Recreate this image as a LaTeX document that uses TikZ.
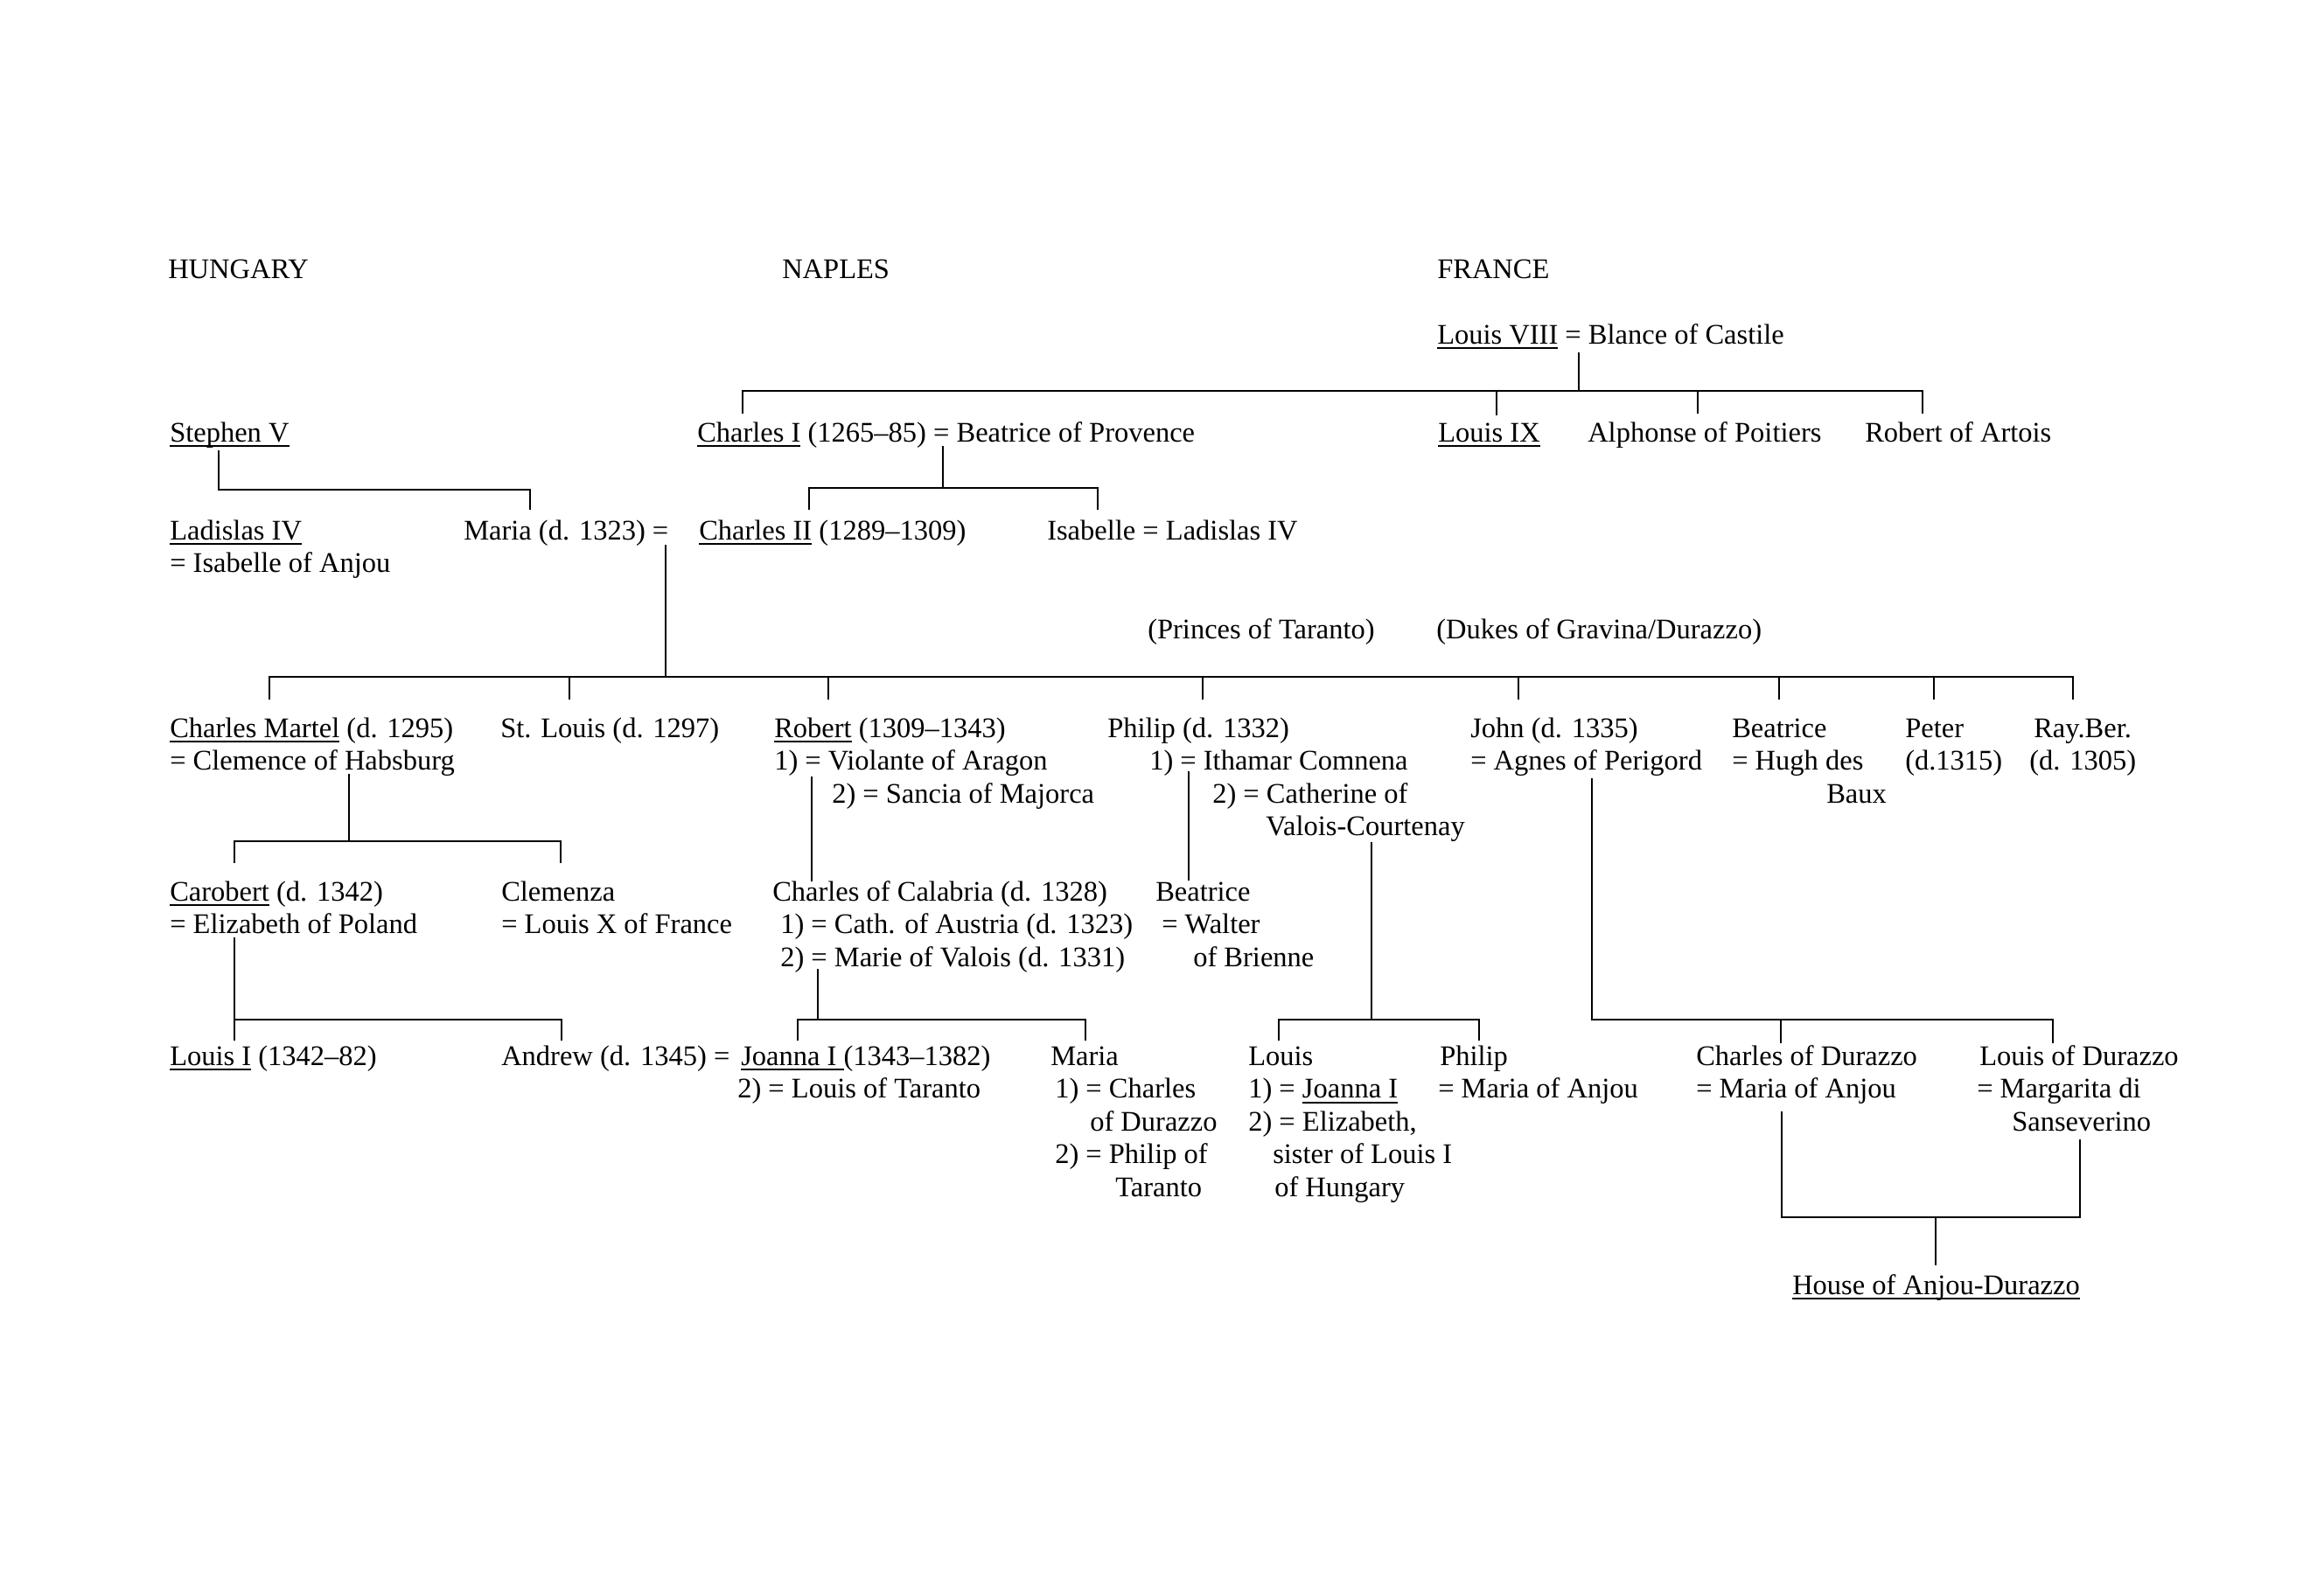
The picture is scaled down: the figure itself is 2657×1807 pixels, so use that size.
\documentclass[tikz,border=0pt]{standalone}
\usepackage{fontspec}
\setmainfont{Liberation Serif}
\newlength{\pxu}
\setlength{\pxu}{0.4pt}
\newcommand{\ind}[1]{\hspace*{#1\pxu}}
\newcommand{\und}[1]{\setbox0=\hbox{#1}\rlap{\rule[-2.4pt]{\wd0}{0.7pt}}\box0\relax}
\newcommand{\kinlines}[1]{\begin{tabular}[t]{@{}l@{}}#1\end{tabular}}

\begin{document}
\begin{tikzpicture}[x=0.4pt,y=-0.4pt,line width=1pt,
  every node/.style={anchor=base west,inner sep=0pt,font=\fontsize{13}{15}\selectfont}]
  \useasboundingbox (0,0) rectangle (2657,1807);
  \node (hungary) at (191,318) {HUNGARY};
  \node (naples) at (893,318) {NAPLES};
  \node (france) at (1642,318) {FRANCE};
  \node (louis8) at (1642,393) {\und{Louis VIII} = Blance of Castile};
  \node (stephen) at (193,505) {\und{Stephen V}};
  \node (charles1) at (796,505) {\und{Charles I} (1265--85) = Beatrice of Provence};
  \node (louis9) at (1643,505) {\und{Louis IX}};
  \node (alphonse) at (1814,505) {Alphonse of Poitiers};
  \node (robertart) at (2131,505) {Robert of Artois};
  \node (ladislas) at (193,617) {\kinlines{\und{Ladislas IV}\\= Isabelle of Anjou}};
  \node (maria) at (529,617) {Maria (d. 1323) =};
  \node (charles2) at (798,617) {\und{Charles II} (1289--1309)};
  \node (isabelle) at (1196,617) {Isabelle = Ladislas IV};
  \node (taranto) at (1311,730) {(Princes of Taranto)};
  \node (durazzo) at (1641,730) {(Dukes of Gravina/Durazzo)};
  \node (martel) at (193,843) {\kinlines{\und{Charles Martel} (d. 1295)\\= Clemence of Habsburg}};
  \node (stlouis) at (571,843) {St. Louis (d. 1297)};
  \node (robert) at (884,843) {\kinlines{\und{Robert} (1309--1343)\\1) = Violante of Aragon\\\ind{66}2) = Sancia of Majorca}};
  \node (philip) at (1265,843) {\kinlines{Philip (d. 1332)\\\ind{48}1) = Ithamar Comnena\\\ind{120}2) = Catherine of\\\ind{181}Valois-Courtenay}};
  \node (john) at (1680,843) {\kinlines{John (d. 1335)\\= Agnes of Perigord}};
  \node (beatrice) at (1979,843) {\kinlines{Beatrice\\= Hugh des\\\ind{108}Baux}};
  \node (peter) at (2177,843) {\kinlines{Peter\\(d.1315)}};
  \node (rayber) at (2319,843) {\kinlines{\ind{5}Ray.Ber.\\(d. 1305)}};
  \node (carobert) at (193,1030) {\kinlines{\und{Carobert} (d. 1342)\\= Elizabeth of Poland}};
  \node (clemenza) at (572,1030) {\kinlines{Clemenza\\= Louis X of France}};
  \node (calabria) at (882,1030) {\kinlines{Charles of Calabria (d. 1328)\\\ind{9}1) = Cath. of Austria (d. 1323)\\\ind{9}2) = Marie of Valois (d. 1331)}};
  \node (beatrice2) at (1320,1030) {\kinlines{Beatrice\\\ind{7}= Walter\\\ind{43}of Brienne}};
  \node (louis1) at (193,1218) {\und{Louis I} (1342--82)};
  \node (andrew) at (572,1218) {Andrew (d. 1345) =};
  \node (joanna) at (842,1218) {\kinlines{\ind{4}\und{Joanna I~}(1343--1382)\\2) = Louis of Taranto}};
  \node (mariad) at (1200,1218) {\kinlines{Maria\\\ind{5}1) = Charles\\\ind{45}of Durazzo\\\ind{5}2) = Philip of\\\ind{74}Taranto}};
  \node (louist) at (1426,1218) {\kinlines{Louis\\1) = \und{Joanna I}\\2) = Elizabeth,\\\ind{28}sister of Louis I\\\ind{30}of Hungary}};
  \node (philipt) at (1643,1218) {\kinlines{\ind{2}Philip\\= Maria of Anjou}};
  \node (charlesd) at (1938,1218) {\kinlines{Charles of Durazzo\\= Maria of Anjou}};
  \node (louisd) at (2259,1218) {\kinlines{\ind{3}Louis of Durazzo\\= Margarita di\\\ind{40}Sanseverino}};
  \node (house) at (2048,1480) {\und{House of Anjou-Durazzo}};

  \coordinate (frbar) at (1805,447);
  \coordinate (hubar) at (250,560);
  \coordinate (nabar) at (1078,558);
  \coordinate (sibar) at (761,774);
  \coordinate (mabar) at (399,962);
  \coordinate (cbbar) at (268,1166);
  \coordinate (clbar) at (935,1166);
  \coordinate (ctbar) at (1568,1166);
  \coordinate (jobar) at (1820,1166);
  \coordinate (dubar) at (2213,1392);

  \draw ([shift={(163,10)}]louis8.base west) -- (frbar);
  \draw ([shift={(53,-32)}]charles1.base west) |- (frbar) -| ([shift={(67,-32)}]robertart.base west);
  \draw ([shift={(68,-30)}]louis9.base west) |- (frbar);
  \draw ([shift={(127,-32)}]alphonse.base west) |- (frbar);

  \draw ([shift={(57,10)}]stephen.base west) |- (hubar) -| ([shift={(77,-34)}]maria.base west);
  \draw ([shift={(282,5)}]charles1.base west) -- (nabar);
  \draw ([shift={(127,-34)}]charles2.base west) |- (nabar) -| ([shift={(59,-34)}]isabelle.base west);

  \draw ([shift={(232,6)}]maria.base west) -- (sibar);
  \draw ([shift={(115,-43)}]martel.base west) |- (sibar) -| ([shift={(51,-43)}]rayber.base west);
  \foreach \kid/\dx in {stlouis/80,robert/63,philip/110,john/56,beatrice/55,peter/34}
    \draw ([shift={(\dx,-43)}]\kid.base west) |- (sibar);

  \draw ([shift={(206,42)}]martel.base west) -- (mabar);
  \draw ([shift={(75,-43)}]carobert.base west) |- (mabar) -| ([shift={(69,-43)}]clemenza.base west);
  \draw ([shift={(44,45)}]robert.base west) -- ([shift={(46,-22)}]calabria.base west);
  \draw ([shift={(94,39)}]philip.base west) -- ([shift={(39,-23)}]beatrice2.base west);

  \draw ([shift={(75,42)}]carobert.base west) -- ([shift={(75,-28)}]louis1.base west);
  \draw (cbbar) -| ([shift={(70,-28)}]andrew.base west);
  \draw ([shift={(53,78)}]calabria.base west) -- (clbar);
  \draw ([shift={(70,-28)}]joanna.base west) |- (clbar) -| ([shift={(41,-28)}]mariad.base west);
  \draw ([shift={(303,120)}]philip.base west) -- (ctbar);
  \draw ([shift={(36,-28)}]louist.base west) |- (ctbar) -| ([shift={(48,-28)}]philipt.base west);
  \draw ([shift={(140,47)}]john.base west) -- (jobar) -| ([shift={(88,-25)}]louisd.base west);
  \draw ([shift={(98,-25)}]charlesd.base west) |- (jobar);

  \draw ([shift={(99,53)}]charlesd.base west) |- (dubar) -| ([shift={(119,85)}]louisd.base west);
  \draw (dubar) -- ([shift={(165,-33)}]house.base west);
\end{tikzpicture}
\end{document}
